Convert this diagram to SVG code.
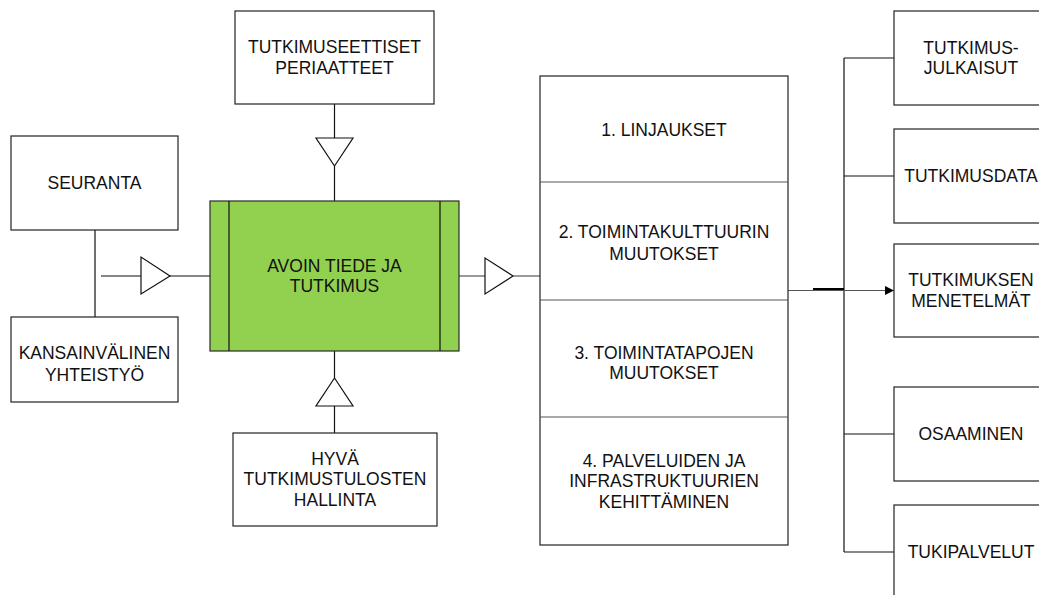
<svg xmlns="http://www.w3.org/2000/svg" width="1039" height="595" viewBox="0 0 1039 595">
<style>
.box{fill:#fff;stroke:#222;stroke-width:1.2}
.green{fill:#92D050;stroke:#2a2a2a;stroke-width:1.2}
.div{stroke:#555;stroke-width:1.2}
.ln{stroke:#111;stroke-width:1.2;fill:none}
.gl{stroke:#555;stroke-width:1.2;fill:none}
.tri{fill:#fff;stroke:#111;stroke-width:1.2}
text{font-family:"Liberation Sans",Arial,sans-serif;font-size:17.5px;fill:#111;text-anchor:middle}
</style>
<defs>
<marker id="ah" markerWidth="10" markerHeight="10" refX="9" refY="4.5" orient="auto" markerUnits="userSpaceOnUse">
<path d="M0,0 L9,4.5 L0,9 Z" fill="#000"/>
</marker>
</defs>
<g id="connectors">
<line class="ln" x1="95" y1="230" x2="95" y2="317"/>
<line class="ln" x1="101" y1="276" x2="141" y2="276"/>
<polygon class="tri" points="141,257 141,294 170,276"/>
<line class="ln" x1="170" y1="276" x2="210" y2="276"/>
<line class="ln" x1="334.5" y1="104" x2="334.5" y2="138"/>
<polygon class="tri" points="316,138 353,138 334.5,166"/>
<line class="ln" x1="334.5" y1="166" x2="334.5" y2="201"/>
<line class="ln" x1="334.5" y1="351" x2="334.5" y2="378"/>
<polygon class="tri" points="334.5,378 316,406 353,406"/>
<line class="ln" x1="334.5" y1="406" x2="334.5" y2="433"/>
<line class="gl" x1="459" y1="276" x2="485" y2="276"/>
<polygon class="tri" points="485,258 485,294 513,276"/>
<line class="gl" x1="513" y1="276" x2="540" y2="276"/>
<line class="ln" x1="844" y1="58" x2="844" y2="552"/>
<line class="ln" x1="844" y1="58" x2="894" y2="58"/>
<line class="ln" x1="844" y1="176" x2="894" y2="176"/>
<line class="ln" x1="844" y1="434" x2="894" y2="434"/>
<line class="ln" x1="844" y1="552" x2="894" y2="552"/>
<line class="gl" x1="785" y1="290.5" x2="894" y2="290.5" marker-end="url(#ah)"/>
<line x1="813" y1="289" x2="844" y2="289" stroke="#000" stroke-width="2"/>
</g>
<g id="seuranta">
<rect class="box" x="11" y="136" width="167" height="94"/>
<text x="94.5" y="189">SEURANTA</text>
</g>
<g id="kansainvalinen">
<rect class="box" x="11" y="317" width="167" height="85"/>
<text x="94.5" y="359">KANSAINVÄLINEN</text>
<text x="94.5" y="381">YHTEISTYÖ</text>
</g>
<g id="periaatteet">
<rect class="box" x="235" y="11" width="199" height="93"/>
<text x="334.5" y="53">TUTKIMUSEETTISET</text>
<text x="334.5" y="74">PERIAATTEET</text>
</g>
<g id="avoin">
<rect class="green" x="210" y="201" width="249" height="150"/>
<line class="ln" x1="229" y1="201" x2="229" y2="351"/>
<line class="ln" x1="440" y1="201" x2="440" y2="351"/>
<text x="334.5" y="272">AVOIN TIEDE JA</text>
<text x="334.5" y="292">TUTKIMUS</text>
</g>
<g id="hyva">
<rect class="box" x="233" y="433" width="204" height="93"/>
<text x="335" y="465">HYVÄ</text>
<text x="335" y="485">TUTKIMUSTULOSTEN</text>
<text x="335" y="506">HALLINTA</text>
</g>
<g id="column">
<rect class="box" x="540" y="76" width="248" height="469"/>
<line class="div" x1="540" y1="182" x2="788" y2="182"/>
<line class="div" x1="540" y1="300" x2="788" y2="300"/>
<line class="div" x1="540" y1="417" x2="788" y2="417"/>
<text x="664" y="136">1. LINJAUKSET</text>
<text x="664" y="238">2. TOIMINTAKULTTUURIN</text>
<text x="664" y="260">MUUTOKSET</text>
<text x="664" y="359">3. TOIMINTATAPOJEN</text>
<text x="664" y="379">MUUTOKSET</text>
<text x="664" y="467">4. PALVELUIDEN JA</text>
<text x="664" y="487">INFRASTRUKTUURIEN</text>
<text x="664" y="508">KEHITTÄMINEN</text>
</g>
<g id="julkaisut">
<rect class="box" x="894" y="11" width="154" height="94"/>
<text x="971" y="54">TUTKIMUS-</text>
<text x="971" y="74">JULKAISUT</text>
</g>
<g id="data">
<rect class="box" x="894" y="129" width="154" height="94"/>
<text x="971" y="182">TUTKIMUSDATA</text>
</g>
<g id="menetelmat">
<rect class="box" x="894" y="244" width="154" height="93"/>
<text x="971" y="286">TUTKIMUKSEN</text>
<text x="971" y="307">MENETELMÄT</text>
</g>
<g id="osaaminen">
<rect class="box" x="894" y="387" width="154" height="94"/>
<text x="971" y="440">OSAAMINEN</text>
</g>
<g id="tukipalvelut">
<rect class="box" x="894" y="505" width="154" height="95"/>
<text x="971" y="558">TUKIPALVELUT</text>
</g>
</svg>
